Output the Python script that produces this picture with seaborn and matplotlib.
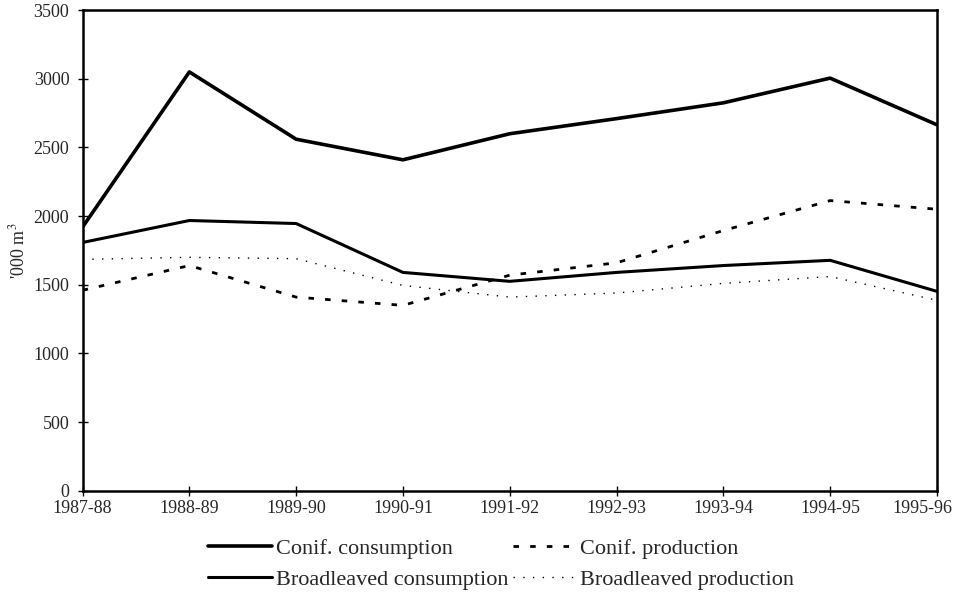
import numpy as np
import pandas as pd
import matplotlib
matplotlib.use("Agg")
import matplotlib.pyplot as plt
import matplotlib.transforms as mtransforms
import seaborn as sns

years = ["1987-88", "1988-89", "1989-90", "1990-91", "1991-92",
         "1992-93", "1993-94", "1994-95", "1995-96"]
conif_consumption = [1920, 3050, 2560, 2410, 2600, 2710, 2825, 3005, 2665]
conif_production = [1460, 1640, 1410, 1350, 1570, 1660, 1895, 2113, 2050]
broad_consumption = [1808, 1968, 1946, 1590, 1525, 1590, 1640, 1678, 1452]
broad_production = [1685, 1700, 1690, 1495, 1410, 1440, 1510, 1560, 1387]

series = {
    "Conif. consumption": conif_consumption,
    "Conif. production": conif_production,
    "Broadleaved consumption": broad_consumption,
    "Broadleaved production": broad_production,
}
styles = {
    "Conif. consumption": dict(lw=2.6, ls="-"),
    "Conif. production": dict(lw=2.0, ls=(0, (2, 4))),
    "Broadleaved consumption": dict(lw=2.2, ls="-"),
    "Broadleaved production": dict(lw=1.0, ls=(0, (1, 6))),
}

sns.set_theme(style="white")
plt.rcParams["font.family"] = ["Liberation Serif", "DejaVu Serif"]
plt.rcParams["mathtext.fontset"] = "stix"

fig, ax = plt.subplots(figsize=(9.6, 5.97), dpi=100)
fig.subplots_adjust(left=0.086, right=0.976, top=0.983, bottom=0.178)

pos = np.arange(len(years))
lines = {}
for name, vals in series.items():
    df = pd.DataFrame({"x": pos, "y": vals})
    sns.lineplot(data=df, x="x", y="y", ax=ax, color="black",
                 label=name, **styles[name])
    lines[name] = ax.get_lines()[-1]

ax.set_xlim(0, len(years) - 1)
ax.set_ylim(0, 3500)
ax.set_xticks(pos)
ax.set_xticklabels(years)
ax.set_yticks(np.arange(0, 3501, 500))
ax.set_xlabel("")
ax.set_ylabel("'000 m$^3$", fontsize=13, labelpad=4)
ax.tick_params(axis="both", labelsize=13, direction="inout", length=7,
               width=1, color="black", left=True, bottom=True)
ax.tick_params(axis="y", pad=6)
for sp in ax.spines.values():
    sp.set_color("black")
    sp.set_linewidth(1.8)

# nudge last x label inside the figure, as in the original
last = ax.get_xticklabels()[-1]
last.set_transform(last.get_transform() +
                   mtransforms.ScaledTranslation(-0.15, 0, fig.dpi_scale_trans))

order = ["Conif. consumption", "Broadleaved consumption",
         "Conif. production", "Broadleaved production"]
ax.legend([lines[n] for n in order], order, loc="upper center",
          bbox_to_anchor=(0.49, -0.058), ncol=2, frameon=False,
          fontsize=16, handlelength=2.9, handletextpad=0.15,
          columnspacing=0.2, labelspacing=0.45)

fig.savefig("out.png", dpi=100)
